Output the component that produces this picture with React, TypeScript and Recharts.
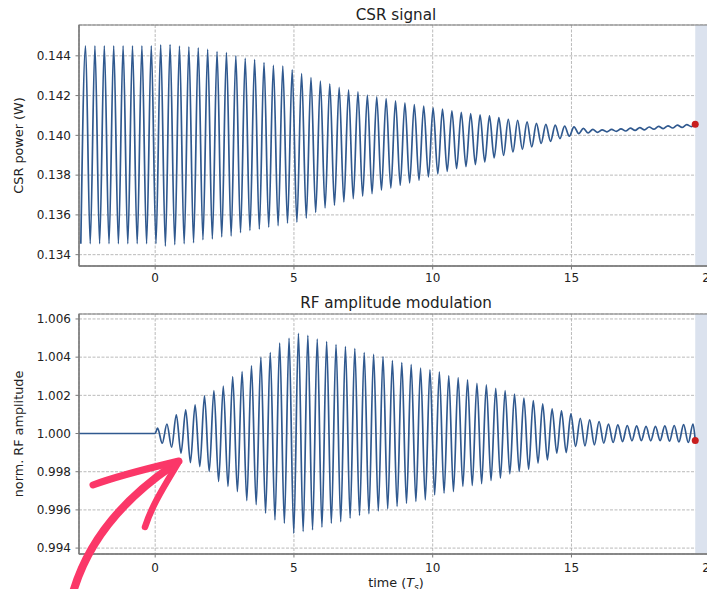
import {
  LineChart,
  Line,
  XAxis,
  YAxis,
  CartesianGrid,
  ReferenceArea,
  ReferenceDot,
} from "recharts";

// time axis (in units of T_s)
const X_MIN = -2.745;
const X_MAX = 20.1;
const xTicks = [0, 5, 10, 15, 20];

const PERIOD = 0.3385;
const CSR_FIRST_PEAK = -2.51;
const RF_FIRST_PEAK = 0.085;
const END_T = 19.46;

// CSR signal: value of every maximum and every minimum
const csrPeaks = [
  0.1445, 0.1445, 0.1445, 0.1445, 0.1445, 0.1445, 0.1445, 0.1445,
  0.14455, 0.14457, 0.14449, 0.14445, 0.1444, 0.14432, 0.14421, 0.14416,
  0.144, 0.14387, 0.14381, 0.14366, 0.14352, 0.14348, 0.14329, 0.14311,
  0.14291, 0.14273, 0.14259, 0.14242, 0.14229, 0.14219, 0.14202, 0.14194,
  0.14185, 0.14173, 0.14163, 0.14155, 0.14147, 0.14138, 0.14132, 0.14123,
  0.14116, 0.1411, 0.14103, 0.14098, 0.14089, 0.14081, 0.14076, 0.14068,
  0.1406, 0.14055, 0.14051, 0.14046, 0.14043, 0.14035, 0.1403, 0.14028,
  0.1403, 0.14033, 0.14036, 0.14039, 0.14042, 0.14045, 0.14048, 0.14051,
  0.14054,
];
const csrTroughs = [
  0.13455, 0.13455, 0.13455, 0.13455, 0.13455, 0.13455, 0.13455, 0.13455,
  0.13455, 0.13443, 0.1345, 0.13455, 0.1346, 0.13475, 0.13479, 0.13489,
  0.13494, 0.13511, 0.13522, 0.13529, 0.13539, 0.13546, 0.13559, 0.13564,
  0.13584, 0.13612, 0.13635, 0.13648, 0.13665, 0.13682, 0.13694, 0.13707,
  0.13724, 0.13735, 0.13749, 0.13761, 0.13774, 0.13791, 0.13806, 0.13819,
  0.13833, 0.13843, 0.13853, 0.13866, 0.13887, 0.13899, 0.13917, 0.1393,
  0.13942, 0.13959, 0.1397, 0.13984, 0.13996, 0.14009, 0.14012, 0.14015,
  0.14018, 0.1402, 0.14022, 0.14025, 0.14028, 0.14031, 0.14034, 0.14037,
  0.1404, 0.14044,
];
const CSR_END = 0.14056;

// RF amplitude modulation: flat before t = 0, then maxima / minima
const RF_FLAT = 1.0;
const rfPeaks = [
  1.00028, 1.0005, 1.00098, 1.00124, 1.0015, 1.00197, 1.00225, 1.00249,
  1.00298, 1.00324, 1.00354, 1.00399, 1.00424, 1.00473, 1.00499, 1.00525,
  1.00514, 1.00494, 1.00481, 1.00466, 1.00455, 1.00445, 1.00424, 1.00415,
  1.00403, 1.00382, 1.00371, 1.00361, 1.00342, 1.00333, 1.00323, 1.00303,
  1.00293, 1.00281, 1.00263, 1.00255, 1.00237, 1.00225, 1.00207, 1.00185,
  1.00173, 1.00155, 1.00129, 1.00119, 1.00103, 1.0008, 1.00071, 1.00063,
  1.00049, 1.00045, 1.00042, 1.0004, 1.00037, 1.00037, 1.0004, 1.00042,
  1.00047, 1.0005,
];
const rfTroughs = [
  0.99949, 0.99928, 0.99897, 0.99848, 0.99827, 0.99801, 0.99749, 0.99723,
  0.99696, 0.99649, 0.99627, 0.99583, 0.99548, 0.99531, 0.99478, 0.99487,
  0.99496, 0.9951, 0.99531, 0.99538, 0.99557, 0.99571, 0.9958, 0.99595,
  0.99606, 0.99618, 0.99635, 0.99644, 0.99653, 0.99679, 0.99688, 0.99696,
  0.99723, 0.99728, 0.99737, 0.99754, 0.99766, 0.99789, 0.99801, 0.99813,
  0.99845, 0.99862, 0.99897, 0.999, 0.99932, 0.99935, 0.99941, 0.99949,
  0.99953, 0.99958, 0.99962, 0.99963, 0.99962, 0.99963, 0.9996, 0.99956,
  0.99953,
];
const RF_END = 0.99963;

const csrTicks = [0.134, 0.136, 0.138, 0.14, 0.142, 0.144];
const csrDomain = [0.13343, 0.14555];
const rfTicks = [0.994, 0.996, 0.998, 1.0, 1.002, 1.004, 1.006];
const rfDomain = [0.99369, 1.00626];

const csrData: { t: number; v: number }[] = [];
csrTroughs.forEach((low, j) => {
  csrData.push({ t: CSR_FIRST_PEAK + (j - 0.5) * PERIOD, v: low });
  if (j < csrPeaks.length) {
    csrData.push({ t: CSR_FIRST_PEAK + j * PERIOD, v: csrPeaks[j] });
  }
});
csrData.push({ t: END_T, v: CSR_END });

const rfData: { t: number; v: number }[] = [
  { t: X_MIN, v: RF_FLAT },
  { t: 0, v: RF_FLAT },
];
rfPeaks.forEach((high, k) => {
  rfData.push({ t: RF_FIRST_PEAK + k * PERIOD, v: high });
  if (k < rfTroughs.length) {
    rfData.push({ t: RF_FIRST_PEAK + (k + 0.5) * PERIOD, v: rfTroughs[k] });
  }
});
rfData.push({ t: END_T, v: RF_END });

const FONT = "DejaVu Sans, Verdana, sans-serif";
const LINE = "#30598f";
const SPINE = "#7a7a7a";
const GRID = "#a8a8a8";
const TEXT = "#222";
const DOT = "#c81e1e";
const SHADE = "#dbe2ee";
const CHART_W = 716;
const Y_AXIS_W = 79;

const tickStyle = { fontSize: 12, fill: TEXT, fontFamily: FONT };

function YLabel({ viewBox, text }: any) {
  const x = viewBox.x + 23;
  const y = viewBox.y + viewBox.height / 2;
  return (
    <text
      x={x}
      y={y}
      transform={`rotate(-90 ${x} ${y})`}
      textAnchor="middle"
      fontSize={12.8}
      fontFamily={FONT}
      fill={TEXT}
    >
      {text}
    </text>
  );
}

function TimeLabel({ viewBox }: any) {
  const x = viewBox.x + viewBox.width / 2;
  const y = viewBox.y + 33;
  return (
    <text x={x} y={y} textAnchor="middle" fontSize={12.8} fontFamily={FONT} fill={TEXT}>
      time (<tspan fontStyle="italic">T</tspan>
      <tspan fontStyle="italic" fontSize={9} dy={2.5}>
        s
      </tspan>
      <tspan dy={-2.5}>)</tspan>
    </text>
  );
}

function Panel({
  data,
  domain,
  ticks,
  end,
  top,
  height,
  xAxisHeight,
  tickMargin,
  yLabel,
  timeLabel,
}: any) {
  return (
    <div style={{ position: "absolute", left: 0, top }}>
      <LineChart
        width={CHART_W}
        height={height}
        data={data}
        margin={{ top: 25, right: 3, bottom: 0, left: 0 }}
      >
        <CartesianGrid stroke={GRID} strokeDasharray="3 1.5" strokeWidth={0.8} />
        <ReferenceArea x1={END_T} x2={X_MAX} fill={SHADE} fillOpacity={1} stroke="none" />
        <XAxis
          dataKey="t"
          type="number"
          domain={[X_MIN, X_MAX]}
          ticks={xTicks}
          allowDataOverflow
          height={xAxisHeight}
          tick={tickStyle}
          tickSize={3.5}
          tickMargin={tickMargin}
          tickLine={{ stroke: SPINE }}
          axisLine={{ stroke: SPINE, strokeWidth: 1.4 }}
          label={timeLabel ? <TimeLabel /> : undefined}
        />
        <YAxis
          type="number"
          domain={domain}
          ticks={ticks}
          allowDataOverflow
          width={Y_AXIS_W}
          tick={tickStyle}
          tickSize={3.5}
          tickMargin={4.5}
          tickLine={{ stroke: SPINE }}
          axisLine={{ stroke: SPINE, strokeWidth: 1.2 }}
          tickFormatter={(v: number) => v.toFixed(3)}
          label={<YLabel text={yLabel} />}
        />
        <ReferenceArea
          x1={X_MIN}
          x2={X_MAX}
          y1={domain[0]}
          y2={domain[1]}
          fill="none"
          stroke={SPINE}
          strokeWidth={1.2}
        />
        <Line
          type="monotone"
          dataKey="v"
          stroke={LINE}
          strokeWidth={1.7}
          dot={false}
          activeDot={false}
          isAnimationActive={false}
        />
        <ReferenceDot x={END_T} y={end} r={3.5} fill={DOT} stroke="none" />
      </LineChart>
    </div>
  );
}

export default function App() {
  const plotCenter = (Y_AXIS_W + CHART_W - 3) / 2;
  return (
    <div
      style={{
        position: "absolute",
        left: 0,
        top: 0,
        width: 707,
        height: 589,
        overflow: "hidden",
        background: "#fff",
        fontFamily: FONT,
      }}
    >
      <Panel
        data={csrData}
        domain={csrDomain}
        ticks={csrTicks}
        end={CSR_END}
        top={0}
        height={290}
        xAxisHeight={24}
        tickMargin={4}
        yLabel="CSR power (W)"
      />
      <Panel
        data={rfData}
        domain={rfDomain}
        ticks={rfTicks}
        end={RF_END}
        top={289}
        height={300}
        xAxisHeight={35}
        tickMargin={5.5}
        yLabel="norm. RF amplitude"
        timeLabel
      />
      <svg
        width={707}
        height={589}
        style={{ position: "absolute", left: 0, top: 0, pointerEvents: "none" }}
      >
        <text x={plotCenter} y={19.5} textAnchor="middle" fontSize={15.2} fontFamily={FONT} fill={TEXT}>
          CSR signal
        </text>
        <text x={plotCenter} y={307.5} textAnchor="middle" fontSize={15.2} fontFamily={FONT} fill={TEXT}>
          RF amplitude modulation
        </text>
        {/* hand-drawn pointer from the screenshot */}
        <g fill="none" stroke="#fb3768" strokeLinecap="round" strokeLinejoin="round">
          <path d="M 72 596 C 85 548, 115 505, 172 466" strokeWidth={8} />
          <path d="M 93 485 C 120 475, 150 468, 179 461" strokeWidth={7} />
          <path d="M 178 463 C 165 485, 152 505, 145 527" strokeWidth={6.5} />
        </g>
      </svg>
    </div>
  );
}
